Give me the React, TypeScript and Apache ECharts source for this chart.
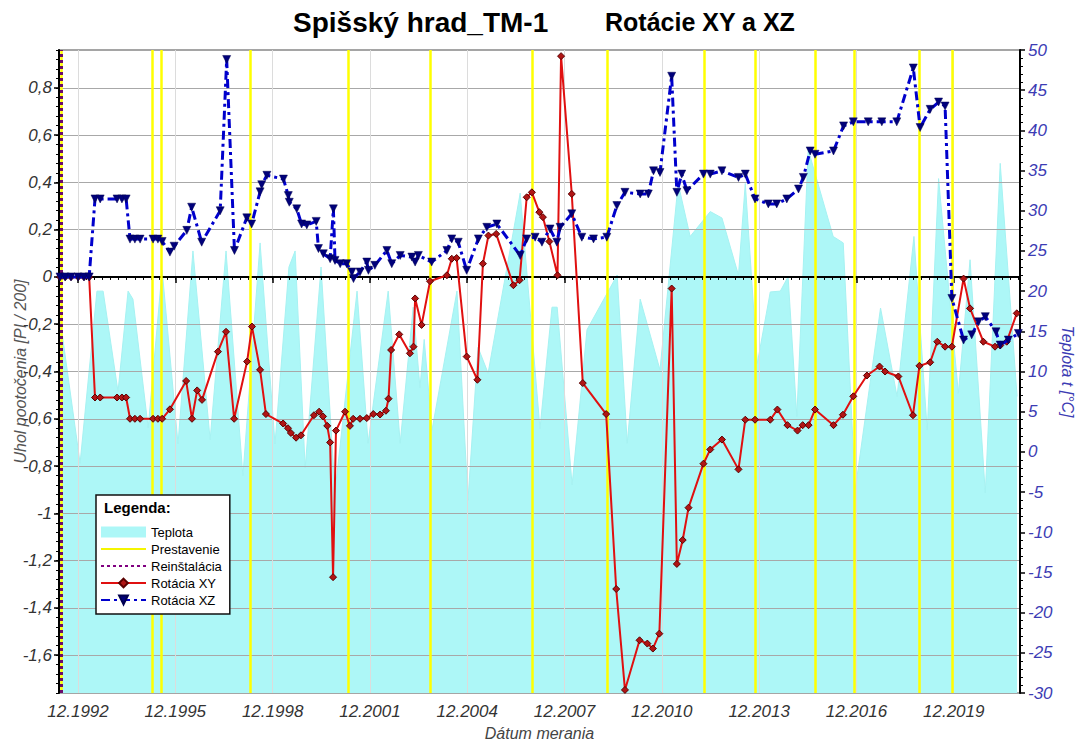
import React, { useEffect, useRef } from 'react';
import * as echarts from 'echarts';

// ---- Data (dates as decimal years) ----
const xLabelYears = [1992, 1995, 1998, 2001, 2004, 2007, 2010, 2013, 2016, 2019];
const leftTickValues = [-1.6, -1.4, -1.2, -1, -0.8, -0.6, -0.4, -0.2, 0, 0.2, 0.4, 0.6, 0.8];

const prestavenieDates = [1992.41, 1995.22, 1995.47, 1998.24, 2001.25, 2003.79, 2006.91, 2009.22, 2012.22, 2013.79, 2015.64, 2016.84, 2018.86, 2019.86];
const reinstalaciaDates = [1992.41];

const xyDates = [1992.36, 1992.52, 1992.70, 1992.92, 1993.10, 1993.26, 1993.44, 1993.60, 1994.12, 1994.27, 1994.40, 1994.52, 1994.67, 1994.83, 1995.23, 1995.38, 1995.51, 1995.75, 1996.25, 1996.43, 1996.59, 1996.74, 1997.23, 1997.48, 1997.73, 1998.13, 1998.28, 1998.53, 1998.71, 1999.24, 1999.39, 1999.48, 1999.64, 1999.79, 2000.19, 2000.35, 2000.47, 2000.60, 2000.69, 2000.78, 2000.87, 2001.15, 2001.30, 2001.40, 2001.61, 2001.82, 2002.02, 2002.23, 2002.41, 2002.49, 2002.57, 2002.82, 2003.15, 2003.26, 2003.31, 2003.51, 2003.77, 2004.29, 2004.44, 2004.59, 2004.90, 2005.23, 2005.40, 2005.57, 2005.81, 2006.34, 2006.53, 2006.75, 2006.91, 2007.14, 2007.25, 2007.45, 2007.70, 2007.81, 2008.14, 2008.48, 2009.20, 2009.51, 2009.78, 2010.23, 2010.47, 2010.64, 2010.84, 2011.22, 2011.38, 2011.56, 2011.74, 2012.20, 2012.41, 2012.77, 2013.28, 2013.49, 2013.79, 2014.26, 2014.48, 2014.79, 2015.10, 2015.26, 2015.44, 2015.64, 2016.21, 2016.50, 2016.82, 2017.24, 2017.63, 2017.80, 2018.21, 2018.66, 2018.86, 2019.19, 2019.41, 2019.65, 2019.86, 2020.22, 2020.42, 2020.83, 2021.19, 2021.35, 2021.55, 2021.86];
const xyValues = [0, 0, 0, 0, 0, 0, -0.51, -0.51, -0.51, -0.51, -0.51, -0.6, -0.6, -0.6, -0.6, -0.6, -0.6, -0.56, -0.44, -0.6, -0.48, -0.52, -0.316, -0.232, -0.6, -0.358, -0.21, -0.393, -0.58, -0.62, -0.64, -0.66, -0.68, -0.67, -0.585, -0.57, -0.59, -0.63, -0.7, -1.27, -0.65, -0.57, -0.63, -0.6, -0.6, -0.597, -0.58, -0.582, -0.566, -0.515, -0.309, -0.243, -0.323, -0.295, -0.091, -0.203, -0.018, 0.007, 0.077, 0.08, -0.337, -0.435, 0.056, 0.175, 0.182, -0.035, -0.014, 0.337, 0.358, 0.274, 0.253, 0.15, 0.007, 0.934, 0.351, -0.449, -0.58, -1.32, -1.747, -1.537, -1.551, -1.572, -1.509, -0.049, -1.214, -1.113, -0.976, -0.79, -0.73, -0.688, -0.814, -0.604, -0.604, -0.604, -0.561, -0.627, -0.65, -0.627, -0.627, -0.561, -0.627, -0.583, -0.505, -0.417, -0.379, -0.4, -0.421, -0.585, -0.376, -0.361, -0.274, -0.295, -0.295, -0.007, -0.133, -0.274, -0.295, -0.29, -0.274, -0.154];

const xzDates = [1992.36, 1992.52, 1992.70, 1992.92, 1993.10, 1993.26, 1993.44, 1993.60, 1994.12, 1994.27, 1994.40, 1994.52, 1994.67, 1994.83, 1995.23, 1995.38, 1995.51, 1995.75, 1995.88, 1996.27, 1996.42, 1996.73, 1997.30, 1997.50, 1997.74, 1998.12, 1998.27, 1998.53, 1998.58, 1998.74, 1999.25, 1999.40, 1999.43, 1999.66, 1999.81, 1999.97, 2000.26, 2000.33, 2000.48, 2000.69, 2000.79, 2000.84, 2001.00, 2001.20, 2001.36, 2001.41, 2001.61, 2001.82, 2001.87, 2002.07, 2002.44, 2002.59, 2002.85, 2003.21, 2003.31, 2003.41, 2003.82, 2004.29, 2004.44, 2004.64, 2004.90, 2005.26, 2005.52, 2005.83, 2006.55, 2006.75, 2007.01, 2007.22, 2007.47, 2007.68, 2007.78, 2008.14, 2008.45, 2008.81, 2009.22, 2009.53, 2009.78, 2010.25, 2010.50, 2010.66, 2010.86, 2011.22, 2011.38, 2011.53, 2011.69, 2012.20, 2012.41, 2012.77, 2013.28, 2013.49, 2013.79, 2014.20, 2014.46, 2014.77, 2015.13, 2015.28, 2015.49, 2015.64, 2016.21, 2016.52, 2016.82, 2017.28, 2017.70, 2018.16, 2018.67, 2018.88, 2019.19, 2019.45, 2019.65, 2019.86, 2020.22, 2020.47, 2020.68, 2020.89, 2021.22, 2021.35, 2021.60, 2021.91];
const xzValues = [0, 0, 0, 0, 0, 0, 0.33, 0.33, 0.33, 0.33, 0.33, 0.16, 0.16, 0.16, 0.16, 0.16, 0.15, 0.105, 0.13, 0.197, 0.295, 0.147, 0.28, 0.92, 0.112, 0.25, 0.224, 0.36, 0.39, 0.43, 0.414, 0.344, 0.316, 0.288, 0.224, 0.22, 0.235, 0.12, 0.098, 0.077, 0.288, 0.07, 0.056, 0.056, 0.021, -0.007, 0.021, 0.063, 0.028, 0.049, 0.112, 0.056, 0.091, 0.084, 0.063, 0.091, 0.063, 0.112, 0.161, 0.147, 0.028, 0.161, 0.21, 0.224, 0.091, 0.161, 0.168, 0.147, 0.203, 0.147, 0.21, 0.267, 0.168, 0.161, 0.168, 0.302, 0.358, 0.351, 0.351, 0.449, 0.442, 0.849, 0.358, 0.435, 0.365, 0.435, 0.435, 0.449, 0.421, 0.435, 0.33, 0.309, 0.309, 0.33, 0.372, 0.421, 0.533, 0.519, 0.533, 0.639, 0.656, 0.656, 0.656, 0.656, 0.884, 0.632, 0.709, 0.74, 0.723, -0.091, -0.267, -0.245, -0.19, -0.168, -0.232, -0.288, -0.267, -0.239];

const tempDates = [1992.33, 1992.98, 1993.50, 1993.69, 1994.15, 1994.46, 1994.61, 1995.08, 1995.51, 1996.00, 1996.46, 1996.99, 1997.48, 1998.00, 1998.53, 1998.99, 1999.42, 1999.61, 1999.92, 2000.41, 2000.84, 2001.52, 2001.86, 2002.48, 2002.85, 2003.25, 2003.46, 2003.59, 2003.83, 2004.60, 2004.94, 2005.25, 2005.56, 2006.55, 2007.16, 2007.53, 2007.69, 2008.15, 2008.61, 2009.54, 2009.85, 2010.25, 2010.86, 2011.42, 2011.79, 2012.41, 2012.77, 2013.28, 2013.49, 2013.86, 2014.26, 2014.57, 2014.81, 2015.08, 2015.43, 2016.20, 2016.51, 2016.88, 2017.66, 2018.17, 2018.69, 2019.10, 2019.45, 2020.06, 2020.42, 2020.89, 2021.35, 2021.87];
const tempValues = [17.5, -1.4, 20, 20, 7.5, 20, 19, 3, 22.6, 1, 25, 1.5, 25, -3, 26, 1, 23, 25, -2, 23, -5, 20, 1.1, 20, 1.1, 18, 8, 14, 2.7, 20, -6, 13, 9.8, 32.2, 2.9, 18, 18, -4.1, 15.2, 22, 1.1, 19, 10.2, 33.4, 26.8, 29.9, 29.1, 22, 33.4, 11, 19.9, 20, 21.8, 4.4, 37.6, 26.8, 26, -4.7, 17.9, 6.9, 26.8, 2.7, 34, 7.3, 23.9, -5.1, 35.9, 6.9];

const X_MIN = 1992.33;
const X_MAX = 2021.96;
const DEC = 11 / 12;

const FONT = 'Liberation Sans, Arial, sans-serif';

function zip(xs: number[], ys: number[]) {
  return xs.map((x, i) => [x, ys[i]]);
}

export default function App() {
  const ref = useRef<HTMLDivElement>(null);

  useEffect(() => {
    document.body.style.margin = '0';
    const chart = echarts.init(ref.current!, null, { renderer: 'svg' });

    const majorX = xLabelYears.map((y) => y + DEC);
    const minorX: number[] = [];
    for (let v = xLabelYears[0] + DEC - 0.25 * 2; v <= X_MAX; v += 0.25) {
      if (v >= X_MIN) minorX.push(+v.toFixed(4));
    }

    const leftFmt = (v: number) => String(+Number(v).toFixed(2)).replace('.', ',');

    const option: any = {
      animation: false,
      backgroundColor: '#ffffff',
      title: [
        { text: 'Spišský hrad_TM-1', left: 288, top: 3, textStyle: { fontFamily: FONT, fontSize: 28, fontWeight: 'bold', color: '#000' } },
        { text: 'Rotácie XY a XZ', left: 600, top: 4, textStyle: { fontFamily: FONT, fontSize: 25, fontWeight: 'bold', color: '#000' } },
      ],
      grid: { left: 59, right: 56, top: 50, bottom: 49, outerBoundsMode: 'none', containLabel: false, show: true, borderColor: '#888', borderWidth: 1.5, backgroundColor: '#fff' },
      legend: {
        orient: 'vertical',
        left: 96,
        top: 495,
        padding: [30, 8, 7, 4],
        backgroundColor: '#fff',
        borderColor: '#111',
        borderWidth: 1.5,
        itemWidth: 45,
        itemHeight: 11,
        itemGap: 3,
        textStyle: { fontFamily: FONT, fontSize: 13, color: '#000', lineHeight: 14 },
        data: [
          { name: 'Teplota', icon: 'rect' },
          { name: 'Prestavenie', itemStyle: { opacity: 0 } },
          { name: 'Reinštalácia', itemStyle: { opacity: 0 } },
          'Rotácia XY',
          'Rotácia XZ',
        ],
        z: 10,
      },
      graphic: [
        { type: 'text', left: 104, top: 500, z: 20, style: { text: 'Legenda:', fontFamily: FONT, fontSize: 15, fontWeight: 'bold', fill: '#000' } },
      ],
      xAxis: [
        {
          type: 'value', position: 'bottom', min: X_MIN, max: X_MAX, z: 2,
          name: 'Dátum merania', nameLocation: 'middle', nameGap: 32, nameMoveOverlap: false,
          nameTextStyle: { fontFamily: FONT, fontSize: 16, fontStyle: 'italic', color: '#444' },
          axisLine: { lineStyle: { color: '#000', width: 2 } },
          axisTick: { customValues: majorX, length: 6, lineStyle: { color: '#000', width: 1.5 } },
          axisLabel: { customValues: majorX, fontFamily: FONT, fontSize: 17, fontStyle: 'italic', color: '#333', margin: 10, formatter: (v: number) => '12.' + Math.round(v - DEC) },
          splitLine: { show: true, lineStyle: { color: '#dcdcdc', width: 1 } },
        },
        {
          type: 'value', position: 'bottom', offset: 0, min: X_MIN, max: X_MAX, z: 2,
          axisLine: { show: false },
          axisTick: { customValues: minorX, length: 3, lineStyle: { color: '#000', width: 1 } },
          axisLabel: { show: false, customValues: minorX },
          splitLine: { show: false },
        },
      ],
      yAxis: [
        {
          type: 'value', position: 'left', min: -1.76, max: 0.96, z: 2,
          name: 'Uhol pootočenia [PI / 200]', nameLocation: 'middle', nameGap: 31, nameRotate: 90, nameMoveOverlap: false,
          nameTextStyle: { fontFamily: FONT, fontSize: 16, fontStyle: 'italic', color: '#555' },
          axisLine: { show: true, lineStyle: { color: '#000', width: 2 } },
          axisTick: { customValues: leftTickValues, length: 5, lineStyle: { color: '#000', width: 1.5 } },
          axisLabel: { customValues: leftTickValues, fontFamily: FONT, fontSize: 17, fontStyle: 'italic', color: '#333', margin: 7, formatter: leftFmt },
          splitLine: { show: true, lineStyle: { color: '#a8a8a8', width: 1 } },
        },
        {
          type: 'value', position: 'left', offset: 0, min: -1.76, max: 0.96, interval: 0.04, z: 2,
          axisLine: { show: false },
          axisTick: { show: true, length: 3, lineStyle: { color: '#000', width: 1 } },
          axisLabel: { show: false },
          splitLine: { show: false },
        },
        {
          type: 'value', position: 'right', min: -30, max: 50, interval: 5, z: 2,
          name: 'Teplota t [°C]', nameLocation: 'middle', nameGap: 39, nameRotate: -90, nameMoveOverlap: false,
          nameTextStyle: { fontFamily: FONT, fontSize: 16, fontStyle: 'italic', color: '#3c3cb4' },
          axisLine: { show: true, lineStyle: { color: '#000', width: 2 } },
          axisTick: { show: true, length: 5, lineStyle: { color: '#000', width: 1.5 } },
          minorTick: { show: true, splitNumber: 5, length: 3, lineStyle: { color: '#000', width: 1 } },
          axisLabel: { fontFamily: FONT, fontSize: 17, fontStyle: 'italic', color: '#3c3cb4', margin: 8 },
          splitLine: { show: false },
        },
      ],
      series: [
        {
          name: 'Teplota', type: 'line', xAxisIndex: 0, yAxisIndex: 2, z: 1,
          data: zip(tempDates, tempValues), symbol: 'none',
          itemStyle: { color: '#adf7f7' },
          lineStyle: { width: 1, color: '#a6f2f2' },
          areaStyle: { color: '#adf7f7', opacity: 1, origin: 'start' },
        },
        {
          name: 'Prestavenie', type: 'line', xAxisIndex: 0, yAxisIndex: 0, z: 3, data: [], symbol: 'none',
          itemStyle: { color: '#ffff00' }, lineStyle: { color: '#f5f500', width: 2 },
          markLine: {
            silent: true, symbol: 'none', label: { show: false },
            lineStyle: { color: '#ffff00', width: 2.5, type: 'solid' },
            data: prestavenieDates.map((d) => ({ xAxis: d })),
          },
        },
        {
          name: 'Reinštalácia', type: 'line', xAxisIndex: 0, yAxisIndex: 0, z: 4, data: [], symbol: 'none',
          itemStyle: { color: '#800080' }, lineStyle: { color: '#800080', width: 2.5, type: [3, 3] },
          markLine: {
            silent: true, symbol: 'none', label: { show: false },
            lineStyle: { color: '#6a0a6a', width: 3, type: [3, 3] },
            data: reinstalaciaDates.map((d) => ({ xAxis: d })),
          },
        },
        {
          name: 'Rotácia XY', type: 'line', xAxisIndex: 0, yAxisIndex: 0, z: 5,
          data: zip(xyDates, xyValues),
          symbol: 'diamond', symbolSize: 7,
          itemStyle: { color: '#b01515', borderColor: '#5a0000', borderWidth: 1 },
          lineStyle: { color: '#e01010', width: 2 },
        },
        {
          name: 'Rotácia XZ', type: 'line', xAxisIndex: 0, yAxisIndex: 0, z: 6,
          data: zip(xzDates, xzValues),
          symbol: 'triangle', symbolRotate: 180, symbolSize: 8,
          itemStyle: { color: '#00007a', borderColor: '#000050', borderWidth: 0.5 },
          lineStyle: { color: '#0000cc', width: 3, type: [9, 4, 3, 4] },
        },
      ],
    };

    chart.setOption(option);
    return () => chart.dispose();
  }, []);

  return <div ref={ref} style={{ position: 'fixed', left: 0, top: 0, width: 1076, height: 742 }} />;
}
